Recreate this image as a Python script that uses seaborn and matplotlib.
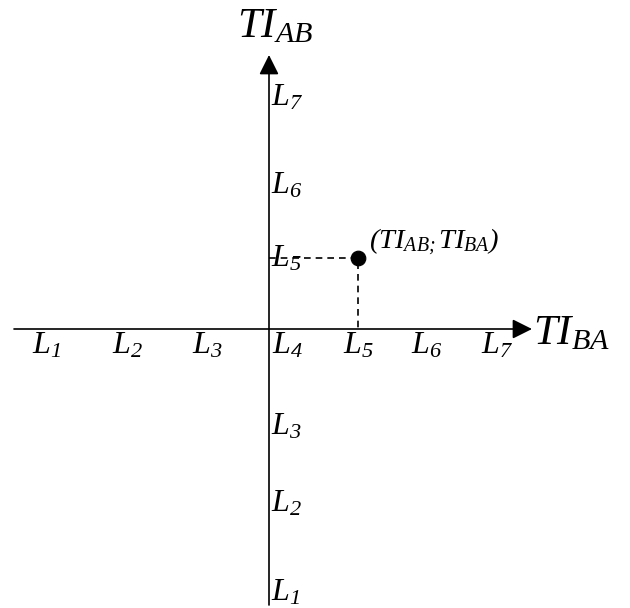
import numpy as np
import pandas as pd
import matplotlib
matplotlib.use('Agg')
import matplotlib.pyplot as plt
import seaborn as sns

# levels shown on both axes
levels = ['L1', 'L2', 'L3', 'L4', 'L5', 'L6', 'L7']
axis_x_name = 'TI_{BA}'
axis_y_name = 'TI_{AB}'
point_label = '(TI_{AB;}TI_{BA})'
# the example point: level on TI_BA axis, level on TI_AB axis
point_ba = 'L5'
point_ab = 'L5'

# where each level sits on the axes (pixel-like units, origin at crossing)
x_pos = [-223, -142, -62, 18, 89, 158, 228]
y_pos = [-263, -174, -97, -16, 71, 144, 232]

sns.set_style('white')
plt.rcParams['text.color'] = 'black'
# everything italic serif, digits and brackets too
plt.rcParams['mathtext.fontset'] = 'custom'
plt.rcParams['mathtext.it'] = 'Liberation Serif:italic'
plt.rcParams['mathtext.rm'] = 'Liberation Serif:italic'
plt.rcParams['mathtext.bf'] = 'Liberation Serif:bold:italic'

fig = plt.figure(figsize=(6.3, 6.08), dpi=100)
ax = fig.add_axes([0, 0, 1, 1])
ax.set_xlim(-269, 361)
ax.set_ylim(-279, 329)
ax.axis('off')

arrow = dict(arrowstyle='-|>,head_length=1.2,head_width=0.6', lw=1.2,
             color='black', shrinkA=0, shrinkB=0, mutation_scale=10)
# horizontal axis (TI_BA)
ax.annotate('', xy=(263, 0), xytext=(-255, 0), arrowprops=arrow)
# vertical axis (TI_AB)
ax.annotate('', xy=(0, 274), xytext=(0, -276), arrowprops=arrow)

ax.text(264, -3, r'$' + axis_x_name + '$', fontsize=31,
        ha='left', va='center')
ax.text(6, 304, r'$' + axis_y_name + '$', fontsize=31,
        ha='center', va='center')

def lab(s):
    return r'$' + s[0] + '_{' + s[1:] + '}$'

# labels under the horizontal axis
for name, xp in zip(levels, x_pos):
    ax.text(xp, -16, lab(name), fontsize=23, ha='center', va='center')

# labels right of the vertical axis (L4 shared with horizontal one)
for name, yp in zip(levels, y_pos):
    if name == 'L4':
        continue
    ax.text(2, yp, lab(name), fontsize=23, ha='left', va='center')

px = x_pos[levels.index(point_ba)]
py = y_pos[levels.index(point_ab)]

guides = pd.DataFrame({'x': [0, px, px], 'y': [py, py, 0]})
ax.plot(guides['x'], guides['y'], color='black', lw=1.2, ls=(0, (4, 3)))

sns.scatterplot(x=[px], y=[py], s=110, color='black', edgecolor='black',
                ax=ax, zorder=5)
ax.text(px + 11, py + 16, r'$' + point_label + '$', fontsize=20.5,
        ha='left', va='center')

plt.savefig('out.png', dpi=100, facecolor='white')
